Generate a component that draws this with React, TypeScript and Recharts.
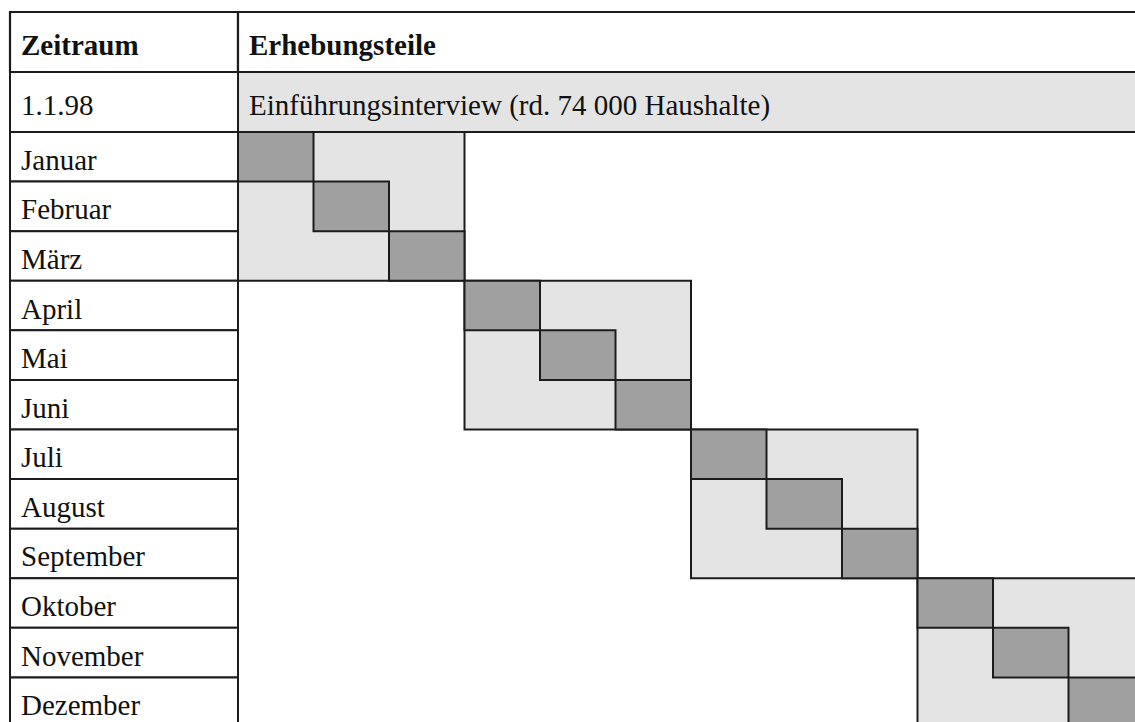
import { ComposedChart, XAxis, YAxis, ReferenceArea } from 'recharts';

// table labels
const headerLabels = ['Zeitraum', 'Erhebungsteile'];
const introDate = '1.1.98';
const introLabel = 'Einführungsinterview (rd. 74 000 Haushalte)';
const periods = [
  'Januar', 'Februar', 'März', 'April', 'Mai', 'Juni',
  'Juli', 'August', 'September', 'Oktober', 'November', 'Dezember',
];

// column (month) in which each period's quarterly interview takes place
const interviewColumn = [0, 1, 2, 3, 4, 5, 6, 7, 8, 9, 10, 11];
// quarter blocks: [first month, end month)
const quarterBlocks = [[0, 3], [3, 6], [6, 9], [9, 12]];

const LINE = '#1c1c1c';
const DARK = '#a0a0a0';
const LIGHT = '#e4e4e4';
const FONT = '"Liberation Serif", "Times New Roman", serif';

function CellText(props: any) {
  const vb = props.viewBox || {};
  return (
    <text
      x={vb.x + 11}
      y={vb.y + vb.height / 2 + 13}
      fontFamily={FONT}
      fontSize={29}
      fontWeight={props.bold ? 700 : 400}
      fill="#111"
    >
      {props.text}
    </text>
  );
}

export default function App() {
  return (
    <div
      style={{
        position: 'fixed', left: 0, top: 0,
        width: 1135, height: 722, overflow: 'hidden', background: '#fff',
      }}
    >
      <ComposedChart
        width={1144}
        height={728}
        data={[]}
        margin={{ top: 12, right: 0, bottom: 1, left: 10 }}
      >
        <XAxis type="number" dataKey="x" domain={[-3.02, 12]} hide allowDataOverflow />
        <YAxis type="number" dataKey="y" domain={[-2.42, 12]} reversed hide allowDataOverflow />

        {/* header row */}
        <ReferenceArea
          x1={-3.02} x2={0} y1={-2.42} y2={-1.21}
          fill="#fff" fillOpacity={1} stroke={LINE} strokeWidth={2.2} ifOverflow="visible"
          label={<CellText text={headerLabels[0]} bold />}
        />
        <ReferenceArea
          x1={0} x2={12} y1={-2.42} y2={-1.21}
          fill="#fff" fillOpacity={1} stroke={LINE} strokeWidth={2.2} ifOverflow="visible"
          label={<CellText text={headerLabels[1]} bold />}
        />

        {/* introductory interview row */}
        <ReferenceArea
          x1={-3.02} x2={0} y1={-1.21} y2={0}
          fill="#fff" fillOpacity={1} stroke={LINE} strokeWidth={2} ifOverflow="visible"
          label={<CellText text={introDate} />}
        />
        <ReferenceArea
          x1={0} x2={12} y1={-1.21} y2={0}
          fill={LIGHT} fillOpacity={1} stroke={LINE} strokeWidth={2} ifOverflow="visible"
          label={<CellText text={introLabel} />}
        />

        {/* period labels */}
        {periods.map((p, i) => (
          <ReferenceArea
            key={p}
            x1={-3.02} x2={0} y1={i} y2={i + 1}
            fill="#fff" fillOpacity={1} stroke={LINE} strokeWidth={2} ifOverflow="visible"
            label={<CellText text={p} />}
          />
        ))}

        {/* quarter blocks */}
        {quarterBlocks.map(([s, e]) => (
          <ReferenceArea
            key={`q${s}`}
            x1={s} x2={e} y1={s} y2={e}
            fill={LIGHT} fillOpacity={1} stroke={LINE} strokeWidth={2} ifOverflow="visible"
          />
        ))}

        {/* monthly interview cells */}
        {interviewColumn.map((c, i) => (
          <ReferenceArea
            key={`m${i}`}
            x1={c} x2={c + 1} y1={i} y2={i + 1}
            fill={DARK} fillOpacity={1} stroke={LINE} strokeWidth={2} ifOverflow="visible"
          />
        ))}
      </ComposedChart>
    </div>
  );
}
